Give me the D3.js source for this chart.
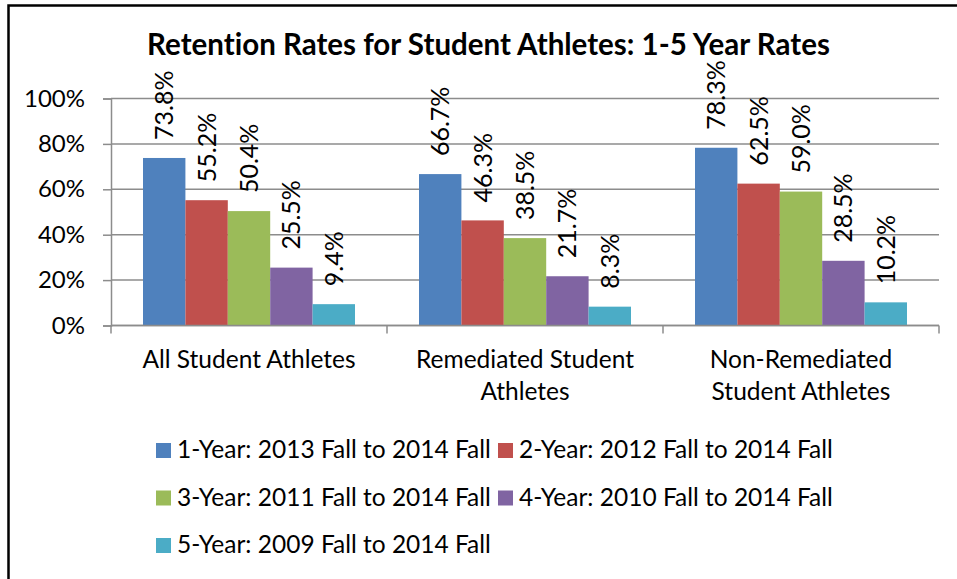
<!DOCTYPE html>
<html>
<head>
<meta charset="utf-8">
<script src="https://cdn.jsdelivr.net/npm/d3@7"></script>
<style>
  body { margin: 0; background: #fff; }
  svg { display: block; font-family: Lato, "Open Sans", sans-serif; }
  svg text { font-variant-ligatures: none; font-feature-settings: "liga" 0, "clig" 0, "dlig" 0; }
</style>
</head>
<body>
<svg width="957" height="579"></svg>
<script>
const width = 957,
    height = 579,
    margin = ({ top: 98.5, right: 18, bottom: 253.5, left: 111 });

// data
const categories = ["All Student Athletes", "Remediated Student Athletes", "Non-Remediated Student Athletes"];
const series = [
  "1-Year: 2013 Fall to 2014 Fall",
  "2-Year: 2012 Fall to 2014 Fall",
  "3-Year: 2011 Fall to 2014 Fall",
  "4-Year: 2010 Fall to 2014 Fall",
  "5-Year: 2009 Fall to 2014 Fall"
];
const oneYear = [0.738, 0.667, 0.783];
const twoYear = [0.552, 0.463, 0.625];
const threeYear = [0.504, 0.385, 0.590];
const fourYear = [0.255, 0.217, 0.285];
const fiveYear = [0.094, 0.083, 0.102];
const colors = ["#4F81BD", "#C0504D", "#9BBB59", "#8064A2", "#4BACC6"];
const yTicks = [0, 0.2, 0.4, 0.6, 0.8, 1];

const values = [oneYear, twoYear, threeYear, fourYear, fiveYear];

const fontSize = "24.5px";

const svg = d3.select("svg");

// outer frame
svg.append("rect")
    .attr("x", 8.5).attr("y", 5.5)
    .attr("width", 1000).attr("height", 1000)
    .attr("fill", "none")
    .attr("stroke", "#000")
    .attr("stroke-width", 2.5);

svg.append("text")
    .attr("x", 488.5).attr("y", 55)
    .attr("text-anchor", "middle")
    .style("font-size", "29.5px")
    .style("font-weight", "bold")
    .text("Retention Rates for Student Athletes: 1-5 Year Rates");

const x0 = d3.scaleBand()
    .domain(categories)
    .range([margin.left, width - margin.right]);

const x1 = d3.scaleBand()
    .domain(series)
    .range([0, x0.bandwidth()])
    .paddingOuter(0.755);

const y = d3.scaleLinear()
    .domain([0, 1])
    .range([height - margin.bottom, margin.top]);

// gridlines
svg.append("g")
    .selectAll("line")
    .data(yTicks)
    .join("line")
    .attr("x1", margin.left)
    .attr("x2", width - margin.right)
    .attr("y1", d => y(d))
    .attr("y2", d => y(d))
    .attr("stroke", "#8c8c8c")
    .attr("stroke-width", 1.5);

// y axis
const yAxis = svg.append("g")
    .attr("transform", `translate(${margin.left},0)`)
    .call(d3.axisLeft(y).tickValues(yTicks).tickFormat(d3.format(".0%")).tickSizeOuter(0).tickSize(8).tickPadding(18));
yAxis.select(".domain").attr("stroke", "#8c8c8c").attr("stroke-width", 1.5);
yAxis.selectAll(".tick line").attr("stroke", "#8c8c8c").attr("stroke-width", 1.5);
yAxis.selectAll(".tick text")
    .style("font-size", "24px")
    .style("font-family", "Lato, sans-serif")
    .attr("fill", "#000");

// bars
const groups = svg.append("g")
    .selectAll("g")
    .data(categories)
    .join("g")
    .attr("transform", d => `translate(${x0(d)},0)`);

const barData = (c, i) => series.map((s, j) => ({ cat: c, series: s, value: values[j][i], color: colors[j] }));

groups.selectAll("rect")
    .data(barData)
    .join("rect")
    .attr("x", d => x1(d.series))
    .attr("y", d => y(d.value))
    .attr("width", x1.bandwidth())
    .attr("height", d => y(0) - y(d.value))
    .attr("fill", d => d.color);

groups.selectAll("text")
    .data(barData)
    .join("text")
    .attr("transform", d => `translate(${x1(d.series) + x1.bandwidth() / 2},${y(d.value) - 18}) rotate(-90)`)
    .attr("dy", "0.36em")
    .style("font-size", "25px")
    .text(d => d3.format(".1%")(d.value));

// x axis
const xAxis = svg.append("g")
    .attr("transform", `translate(0,${y(0)})`);
xAxis.append("line")
    .attr("x1", margin.left).attr("x2", width - margin.right)
    .attr("stroke", "#8c8c8c").attr("stroke-width", 1.5);
xAxis.selectAll(".tk")
    .data(categories.map(c => x0(c)).concat([width - margin.right]))
    .join("line")
    .attr("class", "tk")
    .attr("x1", d => d).attr("x2", d => d)
    .attr("y1", 0).attr("y2", 8)
    .attr("stroke", "#8c8c8c").attr("stroke-width", 1.5);

const catLabels = xAxis.selectAll(".cat")
    .data(categories)
    .join("text")
    .attr("class", "cat")
    .attr("text-anchor", "middle")
    .attr("x", d => x0(d) + x0.bandwidth() / 2)
    .attr("y", 42)
    .style("font-size", fontSize)
    .text(d => d);

// wrap long category names like the reference
function wrap(text, maxWidth) {
  text.each(function () {
    const t = d3.select(this);
    const words = t.text().split(" ");
    const cx = t.attr("x");
    t.text(null);
    let line = [];
    let tspan = t.append("tspan").attr("x", cx);
    words.forEach(w => {
      line.push(w);
      tspan.text(line.join(" "));
      if (tspan.node().getComputedTextLength() > maxWidth && line.length > 1) {
        line.pop();
        tspan.text(line.join(" "));
        line = [w];
        tspan = t.append("tspan").attr("x", cx).attr("dy", "32px").text(w);
      }
    });
  });
}
catLabels.call(wrap, 250);

// legend
const legendCols = [156, 498],
    legendRow0 = 450.5,
    legendRowStep = 47.5;

const legend = svg.append("g")
    .selectAll("g")
    .data(series)
    .join("g")
    .attr("transform", (d, i) => `translate(${legendCols[i % 2]},${legendRow0 + Math.floor(i / 2) * legendRowStep})`);

legend.append("rect")
    .attr("x", 0).attr("y", -7.5)
    .attr("width", 15).attr("height", 15)
    .attr("fill", (d, i) => colors[i]);

legend.append("text")
    .attr("x", 21)
    .attr("y", 7.5)
    .style("font-size", fontSize)
    .text(d => d);
</script>
</body>
</html>
